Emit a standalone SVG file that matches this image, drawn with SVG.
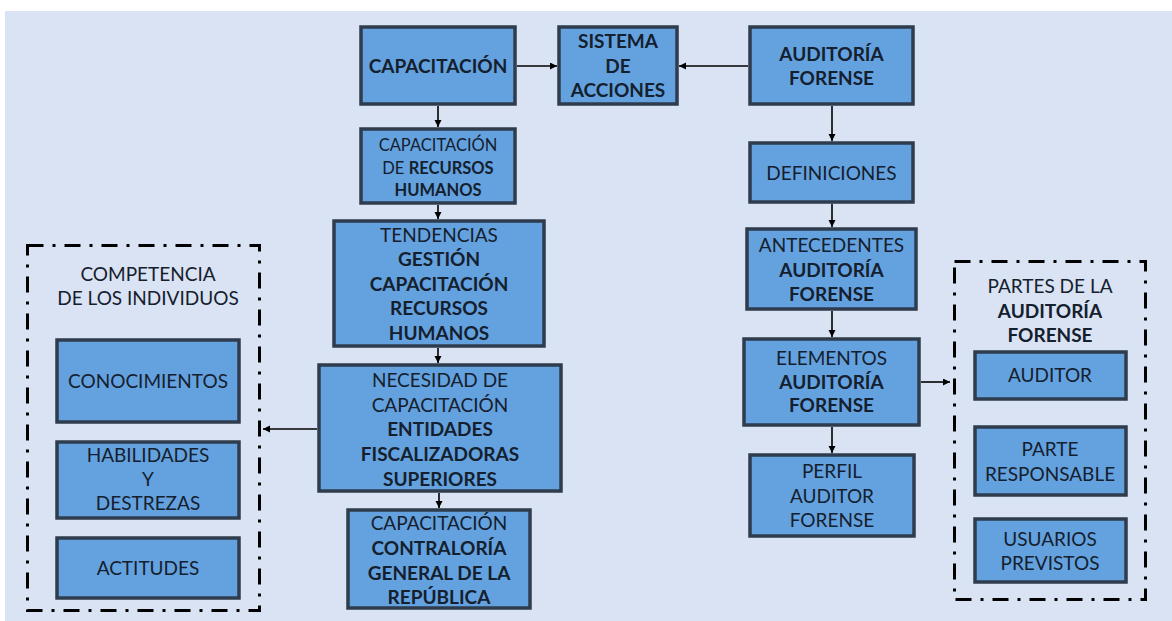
<svg xmlns="http://www.w3.org/2000/svg" width="1172" height="621" viewBox="0 0 1172 621">
<defs>
<style>
.bg{fill:#DAE3F3}
.box{fill:#64A2DF;stroke:#2E3C4E;stroke-width:3.5}
.grp{fill:none;stroke:#000;stroke-width:3;stroke-dasharray:16 9 3 9}
.t{font-family:Lato,"Liberation Sans",sans-serif;font-size:19px;fill:#15202E;text-anchor:middle}
.b{font-weight:700}
.s{font-size:16.5px}
.conn line{stroke:#000;stroke-width:1.6;marker-end:url(#ah)}
</style>
<marker id="ah" markerUnits="userSpaceOnUse" markerWidth="8" markerHeight="8" refX="7" refY="3.5" orient="auto">
<path d="M0,0 L7,3.5 L0,7 z" fill="#000"/>
</marker>
</defs>
<rect x="0" y="0" width="1172" height="621" fill="#fff"/>
<rect class="bg" x="5" y="11" width="1167" height="610"/>

<g id="grp-competencia">
<rect class="grp" x="27.5" y="245.5" width="232" height="365"/>
<text class="t" x="148" y="281">COMPETENCIA</text>
<text class="t" x="148" y="305">DE LOS INDIVIDUOS</text>
</g>
<g id="grp-partes">
<rect class="grp" x="954.5" y="261.5" width="191" height="338"/>
<text class="t" x="1050" y="292.5">PARTES DE LA</text>
<text class="t b" x="1050" y="317.5">AUDITORÍA</text>
<text class="t b" x="1050" y="341.5">FORENSE</text>
</g>

<g id="n-capacitacion">
<rect class="box" x="361" y="27" width="154" height="77"/>
<text class="t b" x="438" y="73">CAPACITACIÓN</text>
</g>
<g id="n-sistema">
<rect class="box" x="559" y="27" width="118" height="77"/>
<text class="t b" x="618" y="48">SISTEMA</text>
<text class="t b" x="618" y="72.5">DE</text>
<text class="t b" x="618" y="97">ACCIONES</text>
</g>
<g id="n-auditoria">
<rect class="box" x="750" y="27" width="163" height="77"/>
<text class="t b" x="831.5" y="61">AUDITORÍA</text>
<text class="t b" x="831.5" y="85">FORENSE</text>
</g>
<g id="n-definiciones">
<rect class="box" x="750" y="143" width="163" height="59"/>
<text class="t" x="831.5" y="180">DEFINICIONES</text>
</g>
<g id="n-cap-rh">
<rect class="box" x="361" y="129" width="154" height="74"/>
<text class="t s" x="438" y="151">CAPACITACIÓN</text>
<text class="t s" x="438" y="174">DE <tspan class="b">RECURSOS</tspan></text>
<text class="t s b" x="438" y="196">HUMANOS</text>
</g>
<g id="n-tendencias">
<rect class="box" x="334" y="221" width="210" height="125"/>
<text class="t" x="439" y="242">TENDENCIAS</text>
<text class="t b" x="439" y="266">GESTIÓN</text>
<text class="t b" x="439" y="291">CAPACITACIÓN</text>
<text class="t b" x="439" y="315">RECURSOS</text>
<text class="t b" x="439" y="340">HUMANOS</text>
</g>
<g id="n-necesidad">
<rect class="box" x="319" y="365" width="242" height="126"/>
<text class="t" x="440" y="387">NECESIDAD DE</text>
<text class="t" x="440" y="411.5">CAPACITACIÓN</text>
<text class="t b" x="440" y="436">ENTIDADES</text>
<text class="t b" x="440" y="461">FISCALIZADORAS</text>
<text class="t b" x="440" y="486">SUPERIORES</text>
</g>
<g id="n-contraloria">
<rect class="box" x="348" y="510" width="182" height="98"/>
<text class="t" x="439" y="530">CAPACITACIÓN</text>
<text class="t b" x="439" y="555">CONTRALORÍA</text>
<text class="t b" x="439" y="579.5">GENERAL DE LA</text>
<text class="t b" x="439" y="604">REPÚBLICA</text>
</g>
<g id="n-antecedentes">
<rect class="box" x="747" y="229" width="169" height="80"/>
<text class="t" x="831.5" y="251.5">ANTECEDENTES</text>
<text class="t b" x="831.5" y="276.5">AUDITORÍA</text>
<text class="t b" x="831.5" y="300.5">FORENSE</text>
</g>
<g id="n-elementos">
<rect class="box" x="744" y="339" width="175" height="86"/>
<text class="t" x="831.5" y="365">ELEMENTOS</text>
<text class="t b" x="831.5" y="389">AUDITORÍA</text>
<text class="t b" x="831.5" y="412">FORENSE</text>
</g>
<g id="n-perfil">
<rect class="box" x="750" y="455" width="164" height="81"/>
<text class="t" x="832" y="478">PERFIL</text>
<text class="t" x="832" y="503">AUDITOR</text>
<text class="t" x="832" y="527">FORENSE</text>
</g>
<g id="n-conocimientos">
<rect class="box" x="57" y="340" width="182" height="82"/>
<text class="t" x="148" y="388">CONOCIMIENTOS</text>
</g>
<g id="n-habilidades">
<rect class="box" x="57" y="442" width="182" height="76"/>
<text class="t" x="148" y="462">HABILIDADES</text>
<text class="t" x="148" y="486">Y</text>
<text class="t" x="148" y="510">DESTREZAS</text>
</g>
<g id="n-actitudes">
<rect class="box" x="57" y="538" width="182" height="60"/>
<text class="t" x="148" y="575">ACTITUDES</text>
</g>
<g id="n-auditor">
<rect class="box" x="975" y="352" width="151" height="47"/>
<text class="t" x="1050" y="382">AUDITOR</text>
</g>
<g id="n-parte">
<rect class="box" x="975" y="427" width="151" height="68"/>
<text class="t" x="1050" y="456">PARTE</text>
<text class="t" x="1050" y="480.5">RESPONSABLE</text>
</g>
<g id="n-usuarios">
<rect class="box" x="975" y="519" width="151" height="63"/>
<text class="t" x="1050" y="545.5">USUARIOS</text>
<text class="t" x="1050" y="570">PREVISTOS</text>
</g>

<g id="connectors" class="conn">
<line x1="517" y1="66" x2="557" y2="66"/>
<line x1="748" y1="66" x2="679" y2="66"/>
<line x1="438" y1="106" x2="438" y2="127"/>
<line x1="438" y1="205" x2="438" y2="219"/>
<line x1="438" y1="348" x2="438" y2="363"/>
<line x1="439" y1="493" x2="439" y2="508"/>
<line x1="317" y1="429" x2="263" y2="429"/>
<line x1="832" y1="106" x2="832" y2="141"/>
<line x1="832" y1="204" x2="832" y2="227"/>
<line x1="832" y1="311" x2="832" y2="337"/>
<line x1="832" y1="427" x2="832" y2="453"/>
<line x1="921" y1="382" x2="950" y2="382"/>
</g>
</svg>
